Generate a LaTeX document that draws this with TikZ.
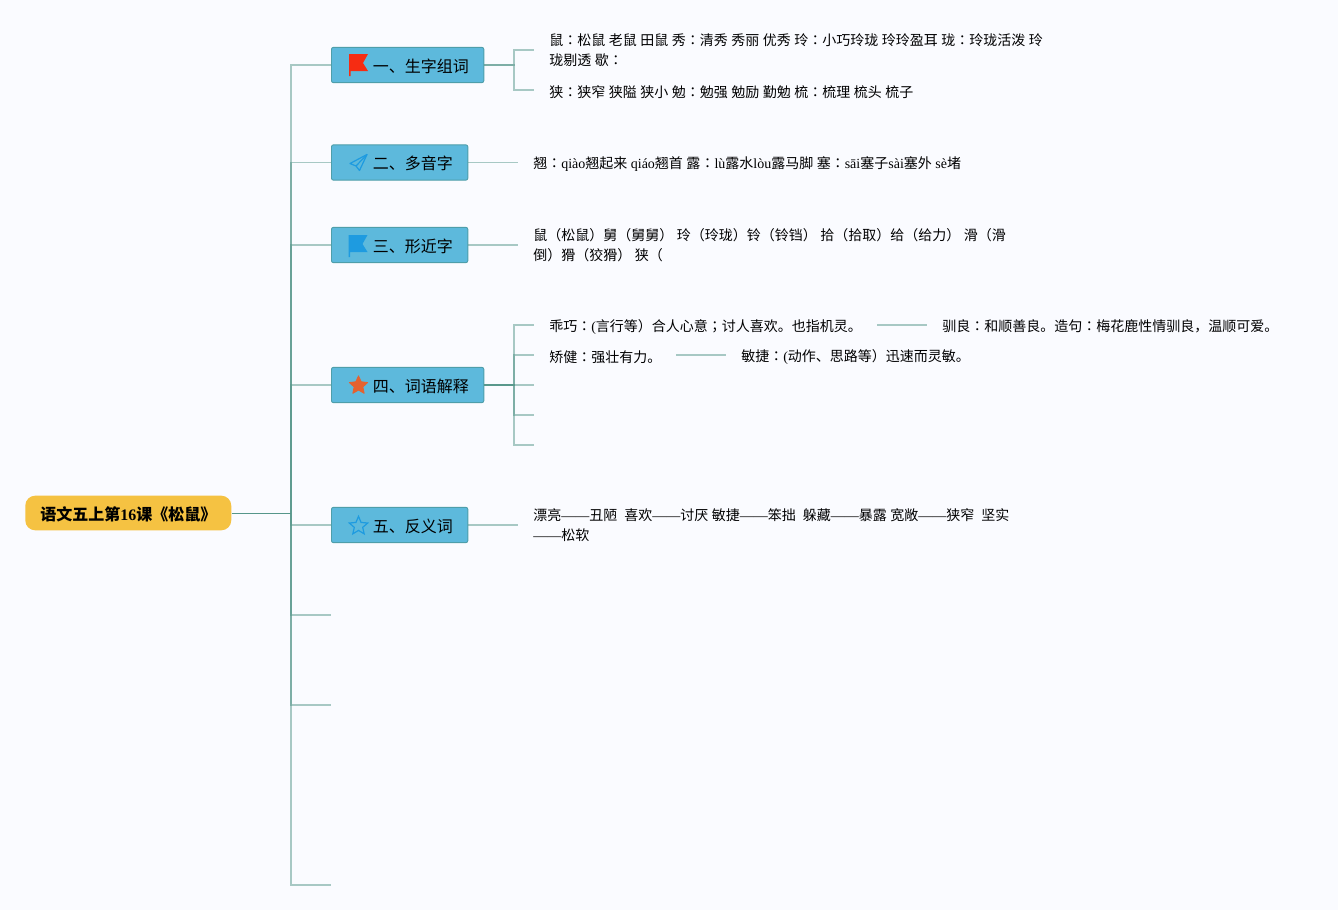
\documentclass[tikz,border=0pt]{standalone}
\usepackage{fontspec}
\setmainfont[WordSpace=1.12]{Noto Sans CJK SC}
\newfontfamily\py{Liberation Serif}
\newfontfamily\tcfont{Noto Sans CJK TC}
\usetikzlibrary{shapes.geometric}
\definecolor{paper}{RGB}{250, 251, 255}
\definecolor{rootfill}{RGB}{245, 194, 66}
\definecolor{topicfill}{RGB}{93, 185, 220}
\definecolor{topicline}{RGB}{78, 158, 170}
\definecolor{linkgreen}{RGB}{85, 150, 138}
\definecolor{flagred}{RGB}{246, 44, 18}
\definecolor{iconblue}{RGB}{30, 155, 224}
\definecolor{starorange}{RGB}{228, 98, 48}
\newcommand{\zhcolon}{{\tcfont ：}}
\newcommand{\zhsemi}{{\tcfont ；}}
\newcommand{\zhdash}{{\py ——}}
\tikzset{
  rootnode/.style={fill=rootfill,rounded corners=7.5pt,minimum height=26pt,text height=12pt,text depth=1.44pt,inner xsep=11.25pt,inner ysep=0pt,anchor=west,font=\fontsize{12}{15}\selectfont\bfseries},
  topic/.style={draw=topicline,fill=topicfill,line width=.7pt,rounded corners=1.5pt,minimum height=26.5pt,text height=12pt,text depth=1.44pt,inner xsep=11.25pt,inner ysep=0pt,anchor=west,font=\fontsize{12}{15}\selectfont},
  leaf/.style={anchor=west,inner xsep=11.25pt,inner ysep=1pt,align=left,font=\fontsize{10.5}{15}\selectfont,execute at begin node={\rule{0pt}{11.5pt}}},
  leafpair/.style={leaf,execute at begin node={\rule{0pt}{13pt}}},
  link/.style={draw=linkgreen,line width=.9pt,opacity=.5},
  flagmark/.pic={
    \fill[pic actions] (0,0) -- (19,0) -- (14,9) -- (19,17) -- (1.5,17) -- (1.5,22) -- (0,22) -- cycle;
  },
}
\begin{document}
\begin{tikzpicture}[x=.75pt,y=-.75pt]
\fill[paper] (0,0) rectangle (1338,910);
\useasboundingbox (0,0) rectangle (1338,910);

\node[rootnode] (root) at (25,513) {语文五上第{\py 16}课《松鼠》};

\node[topic] (t1) at (331,65) {\hspace*{19.75pt}一、生字组词};
\node[topic] (t2) at (331,162.5) {\hspace*{19.75pt}二、多音字};
\node[topic] (t3) at (331,245) {\hspace*{19.75pt}三、形近字};
\node[topic] (t4) at (331,385) {\hspace*{19.75pt}四、词语解释};
\node[topic] (t5) at (331,525) {\hspace*{19.75pt}五、反义词};
\coordinate (t6) at (331,615);
\coordinate (t7) at (331,705);
\coordinate (t8) at (331,885);
\coordinate (trunk) at (291,513);

\draw[linkgreen,line width=.7pt] (root.east) -- (trunk);
\foreach \t in {t1,t2,t3,t4,t5,t6,t7,t8}
  \draw[link] (trunk) |- (\t);

\node[leafpair] (a1) at (534,50) {鼠\zhcolon 松鼠 老鼠 田鼠 秀\zhcolon 清秀 秀丽 优秀 玲\zhcolon 小巧玲珑 玲玲盈耳 珑\zhcolon 玲珑活泼 玲\\珑剔透 歇\zhcolon};
\node[leaf] (a2) at (534,90) {狭\zhcolon 狭窄 狭隘 狭小 勉\zhcolon 勉强 勉励 勤勉 梳\zhcolon 梳理 梳头 梳子};
\foreach \t in {a1,a2}
  \draw[link] (t1.east) -- (514,65) |- (\t.west);

\node[leaf] (b1) at (518,162.5) {翘\zhcolon{\py qiào}翘起来 {\py qiáo}翘首 露\zhcolon{\py lù}露水{\py lòu}露马脚 塞\zhcolon{\py sāi}塞子{\py sài}塞外 {\py sè}堵};
\draw[link] (t2.east) -- (b1.west);

\node[leafpair] (c1) at (518,245) {鼠（松鼠）舅（舅舅） 玲（玲珑）铃（铃铛） 拾（拾取）给（给力） 滑（滑\\倒）猾（狡猾） 狭（};
\draw[link] (t3.east) -- (c1.west);

\node[leaf] (d1) at (534,325) {乖巧\zhcolon{\py (}言行等）合人心意\zhsemi 讨人喜欢。也指机灵。};
\node[leaf] (d2) at (534,355) {矫健\zhcolon 强壮有力。};
\coordinate (d3) at (534,385);
\coordinate (d4) at (534,415);
\coordinate (d5) at (534,445);
\foreach \t in {d1,d2,d3,d4,d5}
  \draw[link] (t4.east) -- (514,385) |- (\t);

\node[leaf] (d1b) at (927,325) {驯良\zhcolon 和顺善良。造句\zhcolon 梅花鹿性情驯良，温顺可爱。};
\node[leaf] (d2b) at (726,355) {敏捷\zhcolon{\py (}动作、思路等）迅速而灵敏。};
\coordinate (d1a) at (877,325);
\coordinate (d2a) at (676,355);
\draw[link] (d1a) -- (d1b.west);
\draw[link] (d2a) -- (d2b.west);

\node[leafpair] (e1) at (518,525) {漂亮\zhdash 丑陋\ \ 喜欢\zhdash 讨厌 敏捷\zhdash 笨拙\ \ 躲藏\zhdash 暴露 宽敞\zhdash 狭窄\ \ 坚实\\\zhdash 松软};
\draw[link] (t5.east) -- (e1.west);

\pic[fill=flagred] at (349,54) {flagmark};
\pic[fill=iconblue] at (348.5,235) {flagmark};
\draw[iconblue,line width=.9pt,line join=round] (367,154.5) -- (350,163.5) -- (356,166) -- (359.5,170.5) -- cycle;
\draw[iconblue,line width=.9pt] (356,166) -- (367,154.5);
\node[star,star points=5,star point ratio=2.1,fill=starorange,draw=starorange,line width=.6pt,line join=round,minimum size=14.5pt,inner sep=0pt] (s4) at (358.5,385.5) {};
\node[star,star points=5,star point ratio=2.2,draw=iconblue,line width=.9pt,minimum size=14.5pt,inner sep=0pt] (s5) at (358.5,526) {};
\end{tikzpicture}
\end{document}
